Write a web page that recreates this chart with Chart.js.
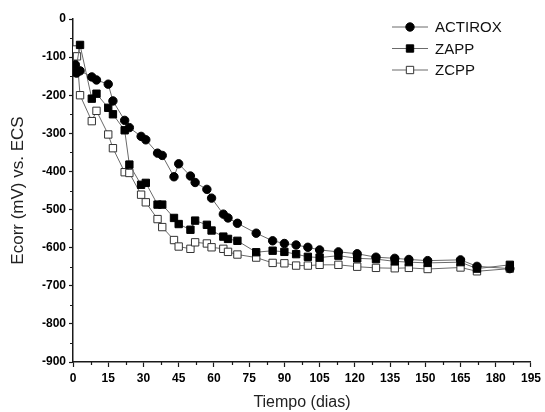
<!DOCTYPE html>
<html lang="es">
<head>
<meta charset="UTF-8">
<title>Ecorr vs Tiempo</title>
<script src="https://cdn.jsdelivr.net/npm/chart.js"></script>
<style>
  html, body { margin: 0; padding: 0; background: #fff; }
  #wrap { width: 545px; height: 412px; }
</style>
</head>
<body>
<div id="wrap"><canvas id="chart"></canvas></div>
<script>
// data (days, mV vs. ECS)
const actiroxDays = [1, 1.5, 3, 8, 10, 15, 17, 22, 24, 29, 31, 36, 38, 43, 45, 50, 52, 57, 59, 64, 66, 70, 78, 85, 90, 95, 100, 105, 113, 121, 129, 137, 143, 151, 165, 172, 186];
const actiroxVals = [-120, -142, -136, -152, -160, -171, -215, -266, -285, -308, -317, -352, -358, -414, -380, -412, -429, -447, -470, -512, -522, -536, -562, -582, -589, -593, -599, -606, -611, -616, -625, -628, -631, -634, -632, -649, -655];

const zappDays = [1, 3, 8, 10, 15, 17, 22, 24, 29, 31, 36, 38, 43, 45, 50, 52, 57, 59, 64, 66, 70, 78, 85, 90, 95, 100, 105, 113, 121, 129, 137, 143, 151, 165, 172, 186];
const zappVals = [-140, -68, -209, -196, -233, -250, -292, -382, -435, -430, -487, -487, -522, -538, -553, -529, -540, -555, -571, -577, -582, -612, -608, -611, -617, -624, -626, -621, -628, -630, -636, -638, -640, -638, -655, -645];

const zcppDays = [1, 1.7, 3, 8, 10, 15, 17, 22, 24, 29, 31, 36, 38, 43, 45, 50, 52, 57, 59, 64, 66, 70, 78, 85, 90, 95, 100, 105, 113, 121, 129, 137, 143, 151, 165, 172, 186];
const zcppVals = [-80, -98, -200, -268, -241, -303, -339, -402, -404, -461, -481, -525, -546, -580, -597, -603, -586, -589, -599, -603, -611, -618, -626, -640, -641, -647, -647, -645, -645, -650, -653, -654, -653, -656, -652, -662, -655];

const seriesNames = ['ACTIROX', 'ZAPP', 'ZCPP'];

function pts(days, vals) {
  return days.map((d, i) => ({ x: d, y: vals[i] }));
}

const lineColor = '#6a6a6a';
const axisColor = '#1a1a1a';
const fontFam = '"Liberation Sans", Arial, sans-serif';

// shorter minor ticks between the labelled ones
const minorTicks = {
  id: 'minorTicks',
  afterDraw(chart) {
    const { ctx, scales: { x, y } } = chart;
    ctx.save();
    ctx.strokeStyle = axisColor;
    ctx.lineWidth = 1.2;
    ctx.beginPath();
    for (let v = 7.5; v < 195; v += 15) {
      const px = Math.round(x.getPixelForValue(v)) + 0.5;
      ctx.moveTo(px, x.top);
      ctx.lineTo(px, x.top + 3);
    }
    for (let v = -50; v > -900; v -= 100) {
      const py = Math.round(y.getPixelForValue(v)) + 0.5;
      ctx.moveTo(y.right, py);
      ctx.lineTo(y.right - 3, py);
    }
    ctx.stroke();
    ctx.restore();
  }
};

// legend like the original: short line with marker in the middle
const lineLegend = {
  id: 'lineLegend',
  afterDraw(chart) {
    const ctx = chart.ctx;
    ctx.save();
    chart.data.datasets.forEach((ds, i) => {
      const yy = 27 + i * 21.5;
      ctx.strokeStyle = lineColor;
      ctx.lineWidth = 1;
      ctx.beginPath();
      ctx.moveTo(392, yy);
      ctx.lineTo(428, yy);
      ctx.stroke();
      ctx.fillStyle = ds.pointBackgroundColor;
      ctx.strokeStyle = ds.pointBorderColor;
      ctx.lineWidth = ds.pointBorderWidth;
      Chart.helpers.drawPoint(ctx, {
        pointStyle: ds.pointStyle,
        radius: ds.pointRadius,
        rotation: 0,
        borderWidth: ds.pointBorderWidth
      }, 410, yy);
      ctx.fillStyle = '#111';
      ctx.font = '15px ' + fontFam;
      ctx.textBaseline = 'middle';
      ctx.fillText(ds.label, 435, yy + 1);
    });
    ctx.restore();
  }
};

new Chart(document.getElementById('chart'), {
  type: 'scatter',
  data: {
    datasets: [
      {
        label: seriesNames[0],
        data: pts(actiroxDays, actiroxVals),
        showLine: true,
        borderColor: lineColor,
        borderWidth: 1,
        pointStyle: 'circle',
        pointRadius: 4.2,
        pointBackgroundColor: '#000',
        pointBorderColor: '#000',
        pointBorderWidth: 1
      },
      {
        label: seriesNames[1],
        data: pts(zappDays, zappVals),
        showLine: true,
        borderColor: lineColor,
        borderWidth: 1,
        pointStyle: 'rect',
        pointRadius: 5.2,
        pointBackgroundColor: '#000',
        pointBorderColor: '#000',
        pointBorderWidth: 1
      },
      {
        label: seriesNames[2],
        data: pts(zcppDays, zcppVals),
        showLine: true,
        borderColor: lineColor,
        borderWidth: 1,
        pointStyle: 'rect',
        pointRadius: 5.2,
        pointBackgroundColor: '#fff',
        pointBorderColor: '#333',
        pointBorderWidth: 1
      }
    ]
  },
  options: {
    responsive: true,
    maintainAspectRatio: false,
    animation: false,
    layout: { padding: { top: 19, right: 9, bottom: 0, left: 0 } },
    plugins: {
      legend: { display: false },
      tooltip: { enabled: false }
    },
    scales: {
      x: {
        type: 'linear',
        min: 0,
        max: 195,
        afterFit: (s) => { s.height = 50; },
        grid: { drawOnChartArea: false, tickLength: 5, tickWidth: 1.2, tickColor: axisColor },
        border: { color: axisColor, width: 1.5 },
        ticks: {
          stepSize: 15,
          padding: 4,
          color: '#000',
          font: { family: fontFam, size: 12, weight: 'bold' }
        },
        title: {
          display: true,
          text: 'Tiempo (dias)',
          color: '#222',
          padding: { top: 0, bottom: 0 },
          font: { family: fontFam, size: 16 }
        }
      },
      y: {
        min: -900,
        max: 0,
        afterFit: (s) => { s.width = 73; },
        grid: { drawOnChartArea: false, tickLength: 4, tickWidth: 1.2, tickColor: axisColor },
        border: { color: axisColor, width: 1.5 },
        ticks: {
          stepSize: 100,
          padding: 3,
          color: '#000',
          font: { family: fontFam, size: 12, weight: 'bold' }
        },
        title: {
          display: true,
          text: 'Ecorr (mV) vs. ECS',
          color: '#222',
          padding: { top: 8, bottom: 0 },
          font: { family: fontFam, size: 17 }
        }
      }
    }
  },
  plugins: [minorTicks, lineLegend]
});
</script>
</body>
</html>
